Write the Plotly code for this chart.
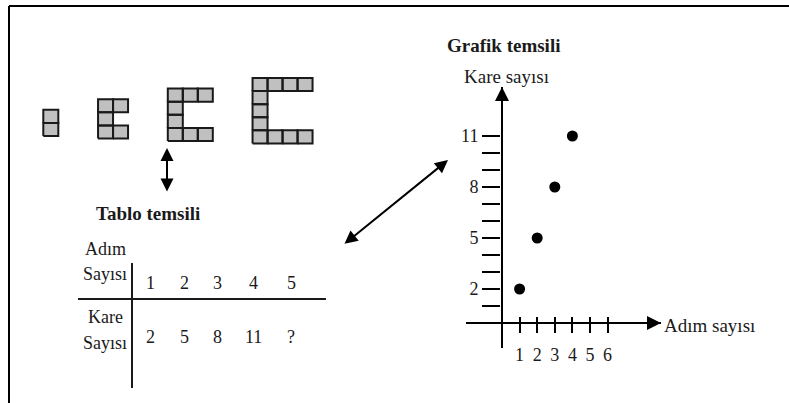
import plotly.graph_objects as go

# ---------------- data ----------------
steps = [1, 2, 3, 4]                 # pattern steps drawn as square figures
table_steps = ["1", "2", "3", "4", "5"]
table_squares = ["2", "5", "8", "11", "?"]
graph_x = [1, 2, 3, 4]               # Adım sayısı
graph_y = [2, 5, 8, 11]              # Kare sayısı
x_tickvals = [1, 2, 3, 4, 5, 6]
y_tickvals = [2, 5, 8, 11]
y_minor_tickvals = [1, 3, 4, 6, 7, 9, 10]

# ---------------- layout helpers ----------------
W, H = 789, 403
FONT = "Liberation Serif"
INK = "#1a1a1a"


def px(x):
    return x / W


def py(y):
    return 1 - y / H


# square figures (cells) built from step number
GAP = 2.65
cx, cy = [], []
for n in steps:
    left = (n - 1) * n / 2 + (n - 1) * GAP
    bottom = -(n - 1) * 0.19
    cells = [(0, r) for r in range(n + 1)]
    cells += [(c, n) for c in range(1, n)]
    cells += [(c, 0) for c in range(1, n)]
    for c, r in cells:
        x0, y0 = left + c, bottom + r
        cx += [x0, x0 + 1, x0 + 1, x0, x0, None]
        cy += [y0, y0, y0 + 1, y0 + 1, y0, None]

fig = go.Figure()

fig.add_trace(go.Scatter(
    x=cx, y=cy, xaxis="x3", yaxis="y3", mode="lines", fill="toself",
    fillcolor="#c0c0c0", line=dict(color=INK, width=2),
    hoverinfo="skip", showlegend=False))

fig.add_trace(go.Scatter(
    x=graph_x, y=graph_y, mode="markers",
    marker=dict(color="black", size=11), showlegend=False, cliponaxis=False))

# graph axes geometry
X0PX, XUNIT = 502, 17.6
Y0PX, YUNIT = 323, 17.0
XL, XR = 466, 661
YT, YB = 87, 348
XMIN, XMAX = (XL - X0PX) / XUNIT, (XR - X0PX) / XUNIT
YMIN, YMAX = (Y0PX - YB) / YUNIT, (Y0PX - YT) / YUNIT

tickfont = dict(family=FONT, size=18, color=INK)

fig.update_layout(
    width=W, height=H, autosize=False,
    margin=dict(l=0, r=0, t=0, b=0),
    paper_bgcolor="white", plot_bgcolor="rgba(0,0,0,0)",
    xaxis=dict(domain=[px(XL), px(XR)], range=[XMIN, XMAX],
               anchor="free", position=py(316),
               showgrid=False, showline=False,
               zeroline=True, zerolinecolor="black", zerolinewidth=2,
               tickmode="array", tickvals=x_tickvals,
               ticktext=[str(v) for v in x_tickvals],
               ticks="outside", ticklen=16, tickwidth=2, tickcolor="black",
               ticklabelstandoff=6, tickfont=tickfont, fixedrange=True),
    yaxis=dict(domain=[py(YB), py(YT)], range=[YMIN, YMAX],
               anchor="free", position=px(500),
               showgrid=False, showline=False,
               zeroline=True, zerolinecolor="black", zerolinewidth=2,
               tickmode="array", tickvals=y_tickvals,
               ticktext=[str(v) for v in y_tickvals],
               ticks="outside", ticklen=18, tickwidth=2, tickcolor="black",
               minor=dict(tickmode="array", tickvals=y_minor_tickvals,
                          ticks="outside", ticklen=18, tickwidth=2,
                          tickcolor="black", showgrid=False),
               tickfont=tickfont, fixedrange=True),
    xaxis3=dict(domain=[px(30), px(330)],
                range=[(30 - 43.3) / 15, (330 - 43.3) / 15],
                anchor="y3", visible=False, fixedrange=True),
    yaxis3=dict(domain=[py(160), py(60)],
                range=[(136 - 160) / 13.1, (136 - 60) / 13.1],
                anchor="x3", visible=False, fixedrange=True),
)

# frame lines
fig.add_shape(type="line", xref="paper", yref="paper",
              x0=px(9), x1=1, y0=py(6), y1=py(6),
              line=dict(color="black", width=2))
fig.add_shape(type="line", xref="paper", yref="paper",
              x0=px(9), x1=px(9), y0=py(6), y1=0,
              line=dict(color="black", width=2))

# table lines
fig.add_shape(type="line", xref="paper", yref="paper",
              x0=px(132), x1=px(132), y0=py(263), y1=py(388),
              line=dict(color=INK, width=2))
fig.add_shape(type="line", xref="paper", yref="paper",
              x0=px(78), x1=px(326), y0=py(299), y1=py(299),
              line=dict(color=INK, width=2))


def text(t, x, y, size=19, bold=False, xanchor="center"):
    fig.add_annotation(
        text=f"<b>{t}</b>" if bold else t, xref="paper", yref="paper",
        x=px(x), y=py(y), xanchor=xanchor, yanchor="middle",
        showarrow=False, font=dict(family=FONT, size=size, color=INK))


text("Tablo temsili", 148, 213, bold=True)
text("Grafik temsili", 503, 45, bold=True)
text("Kare sayısı", 506, 76)
text("Adım sayısı", 662, 325, xanchor="left")

text("Adım", 105, 249, size=18)
text("Sayısı", 105, 274, size=18)
text("Kare", 105, 317, size=18)
text("Sayısı", 105, 343, size=18)

col_x = [150, 184, 217, 253, 291]
for i, t in enumerate(table_steps):
    text(t, col_x[i], 283, size=18)
for i, t in enumerate(table_squares):
    text(t, col_x[i], 337, size=18)

# axis arrowheads
fig.add_annotation(x=0, y=YMAX, xref="x", yref="y", ax=0, ay=12,
                   text="", showarrow=True, arrowhead=2, arrowsize=1.4,
                   arrowwidth=2, arrowcolor="black", standoff=0)
fig.add_annotation(x=XMAX, y=0, xref="x", yref="y", ax=-12, ay=0,
                   text="", showarrow=True, arrowhead=2, arrowsize=1.4,
                   arrowwidth=2, arrowcolor="black", standoff=0)

# double arrows
fig.add_annotation(x=px(167), y=py(148), xref="paper", yref="paper",
                   ax=0, ay=45, text="", showarrow=True, arrowhead=2,
                   arrowside="end+start", arrowsize=1.3, arrowwidth=2,
                   arrowcolor="black", standoff=0, startstandoff=0)
fig.add_annotation(x=px(448), y=py(160), xref="paper", yref="paper",
                   ax=-105, ay=85, text="", showarrow=True, arrowhead=2,
                   arrowside="end+start", arrowsize=1.3, arrowwidth=2,
                   arrowcolor="black", standoff=0, startstandoff=0)

fig.write_html("out.html", config={"displayModeBar": False},
               post_script="document.body.style.margin='0px';")
